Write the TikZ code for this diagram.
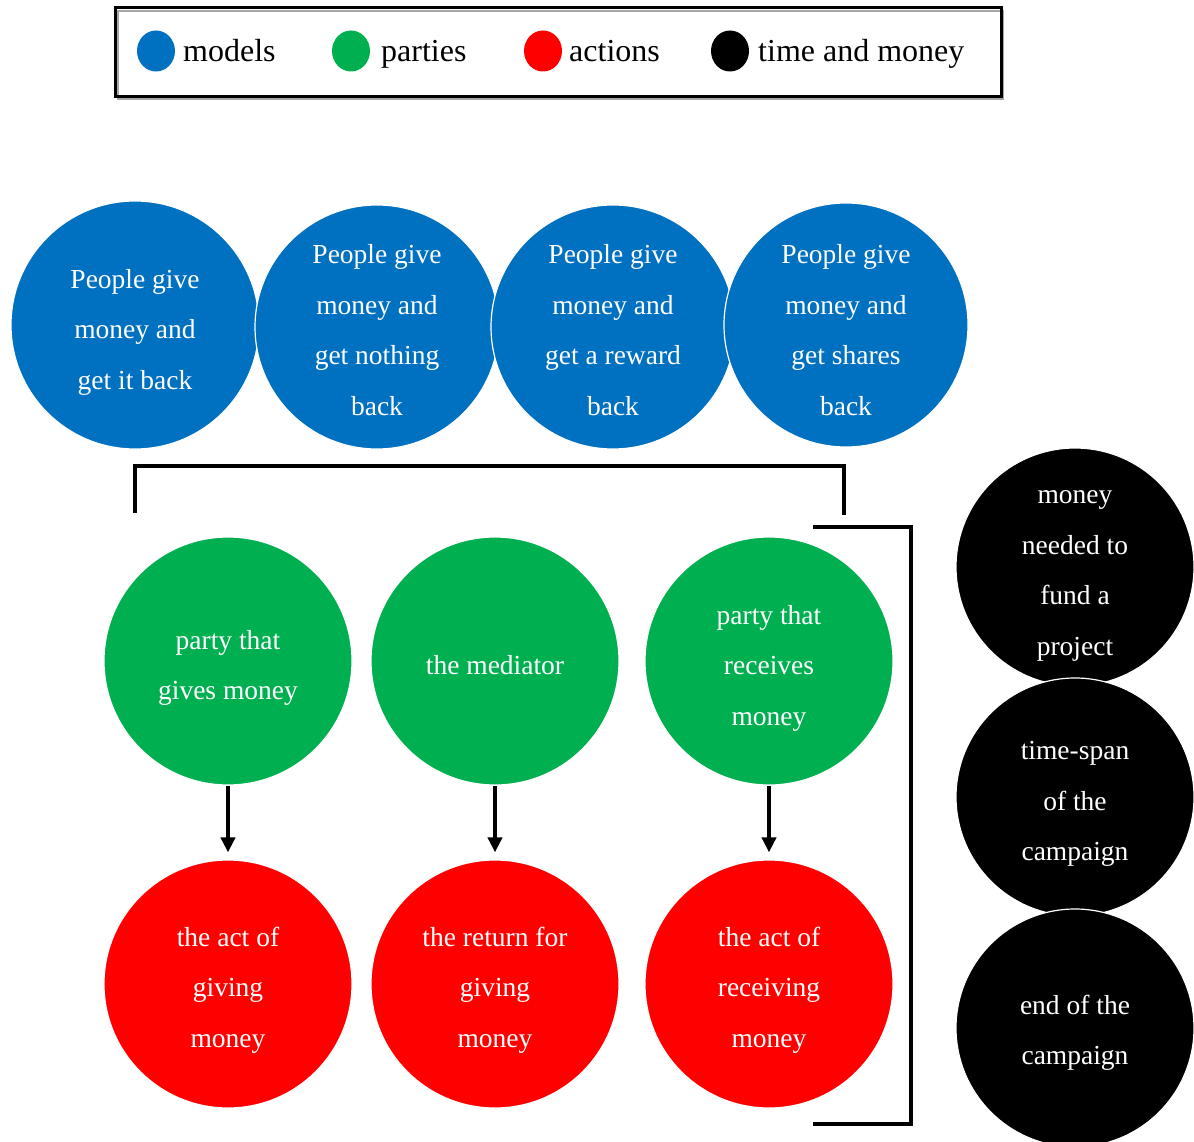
\documentclass[tikz,border=0pt]{standalone}
\usepackage{fontspec}
\setmainfont{Liberation Serif}
\usetikzlibrary{arrows.meta,shapes.geometric}
\definecolor{mblue}{HTML}{0070C0}
\definecolor{mgreen}{HTML}{00B050}
\definecolor{mred}{HTML}{FF0000}
\begin{document}
\begin{tikzpicture}[x=1pt,y=-1pt,
  bubble/.style={circle,draw=white,line width=1.2pt,inner sep=0pt,minimum size=#1},
  bubble/.default=248pt,
  btext/.style={text=white,align=center,inner sep=0pt,font=\fontsize{27.5}{50.5}\selectfont},
  dot/.style={ellipse,inner sep=0pt,minimum width=38pt,minimum height=41pt},
  legtext/.style={anchor=base west,inner sep=0pt,font=\fontsize{32}{36}\selectfont},
  bracket/.style={line width=3.6pt,line cap=butt,line join=miter},
  arr/.style={line width=3.8pt,-{Triangle[width=14pt,length=15pt]}}
]
\useasboundingbox (0,0) rectangle (1194,1142);
% legend
\draw[gray!70,line width=2pt] (118,11) rectangle (1003,99);
\node[draw=black,line width=3pt,minimum width=886pt,minimum height=89pt,inner sep=0pt] (legend) at (558,52.5) {};
\node[dot,fill=mblue] (d1) at (156,51) {};
\node[legtext] (l1) at (183,62) {models};
\node[dot,fill=mgreen] (d2) at (351,51) {};
\node[legtext] (l2) at (381,62) {parties};
\node[dot,fill=mred] (d3) at (543,51) {};
\node[legtext] (l3) at (569,62) {actions};
\node[dot,fill=black] (d4) at (730,51) {};
\node[legtext] (l4) at (758,62) {time and money};
% models
\node[bubble,fill=mblue] (b1) at (135,325) {};
\node[btext] (b1t) at ([yshift=-7pt]b1.center) {People give\\money and\\get it back};
\node[bubble=244pt,fill=mblue] (b2) at (377,327) {};
\node[btext] (b2t) at ([yshift=-3pt]b2.center) {People give\\money and\\get nothing\\back};
\node[bubble=244pt,fill=mblue] (b3) at (613,327) {};
\node[btext] (b3t) at ([yshift=-3pt]b3.center) {People give\\money and\\get a reward\\back};
\node[bubble=244pt,fill=mblue] (b4) at (846,325) {};
\node[btext] (b4t) at ([yshift=-5pt]b4.center) {People give\\money and\\get shares\\back};
% parties
\node[bubble,fill=mgreen] (g1) at (228,661) {};
\node[btext] (g1t) at ([yshift=-7pt]g1.center) {party that\\gives money};
\node[bubble,fill=mgreen] (g2) at (495,661) {};
\node[btext] (g2t) at ([yshift=-4pt]g2.center) {the mediator};
\node[bubble,fill=mgreen] (g3) at (769,661) {};
\node[btext] (g3t) at ([yshift=-7pt]g3.center) {party that\\receives\\money};
% actions
\node[bubble,fill=mred] (r1) at (228,984) {};
\node[btext] (r1t) at ([yshift=-6pt]r1.center) {the act of\\giving\\money};
\node[bubble,fill=mred] (r2) at (495,984) {};
\node[btext] (r2t) at ([yshift=-6pt]r2.center) {the return for\\giving\\money};
\node[bubble,fill=mred] (r3) at (769,984) {};
\node[btext] (r3t) at ([yshift=-6pt]r3.center) {the act of\\receiving\\money};
% time and money
\node[bubble=238pt,fill=black] (k1) at (1075,567) {};
\node[btext] (k1t) at ([yshift=-9pt]k1.center) {money\\needed to\\fund a\\project};
\node[bubble=238pt,fill=black] (k2) at (1075,797) {};
\node[btext] (k2t) at ([yshift=-7pt]k2.center) {time-span\\of the\\campaign};
\node[bubble=238pt,fill=black] (k3) at (1075,1028) {};
\node[btext] (k3t) at ([yshift=-5pt]k3.center) {end of the\\campaign};
% arrows
\draw[arr,shorten >=7pt] (g1.south) -- (r1.north);
\draw[arr,shorten >=7pt] (g2.south) -- (r2.north);
\draw[arr,shorten >=7pt] (g3.south) -- (r3.north);
% brackets
\coordinate (t1) at (135,513);
\coordinate (t2) at (135,466);
\coordinate (t3) at (844,466);
\coordinate (t4) at (844,515);
\draw[bracket] (t1) -- (t2) -- (t3) -- (t4);
\coordinate (s1) at (813,527);
\coordinate (s2) at (911,527);
\coordinate (s3) at (911,1124);
\coordinate (s4) at (813,1124);
\draw[bracket] (s1) -- (s2) -- (s3) -- (s4);
\end{tikzpicture}
\end{document}
